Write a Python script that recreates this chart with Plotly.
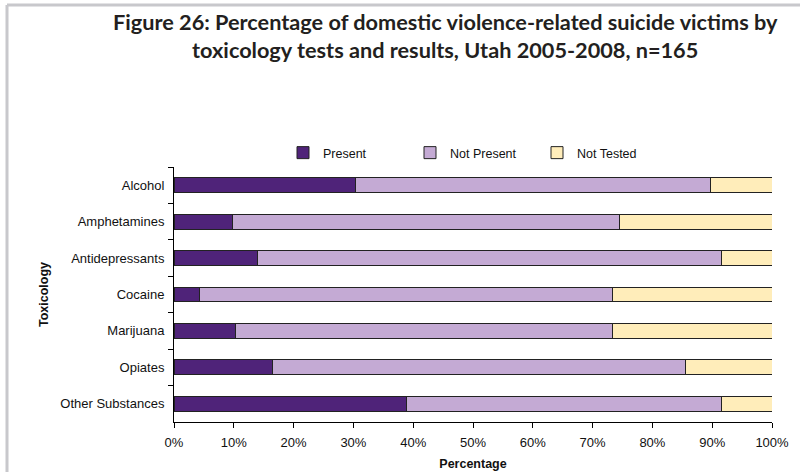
import plotly.graph_objects as go

categories = ["Alcohol", "Amphetamines", "Antidepressants", "Cocaine",
              "Marijuana", "Opiates", "Other Substances"]
present = [30.3, 9.7, 13.9, 4.2, 10.3, 16.4, 38.8]
not_present = [59.4, 64.8, 77.6, 69.1, 63.0, 69.1, 52.7]
not_tested = [10.3, 25.5, 8.5, 26.7, 26.7, 14.5, 8.5]
x_ticks = [0, 10, 20, 30, 40, 50, 60, 70, 80, 90, 100]
x_tick_labels = [f"{v}%" for v in x_ticks]

series = [("Present", present, "#4F2379"),
          ("Not Present", not_present, "#C4AAD4"),
          ("Not Tested", not_tested, "#FFEDBA")]

fig = go.Figure()
for name, vals, col in series:
    fig.add_trace(go.Bar(
        y=categories, x=vals, name=name, orientation="h",
        marker=dict(color=col, line=dict(color="#222222", width=1)),
    ))

font_axis = "Liberation Sans, Arial, sans-serif"
L, T, PW, PH = 174, 167, 598, 255

fig.update_layout(
    barmode="stack",
    bargap=0.59,
    width=800, height=472,
    margin=dict(l=L, r=800 - L - PW, t=T, b=472 - T - PH, autoexpand=False),
    paper_bgcolor="white",
    plot_bgcolor="white",
    font=dict(family=font_axis, size=13, color="#111111"),
    legend=dict(
        orientation="h",
        x=(283 - L) / PW, xanchor="left",
        y=1 + (T - 153) / PH, yanchor="middle",
        font=dict(family=font_axis, size=12.5, color="#111111"),
        entrywidth=82, entrywidthmode="pixels",
        itemwidth=30,
        traceorder="normal",
        bgcolor="rgba(0,0,0,0)",
    ),
    xaxis=dict(
        range=[0, 100],
        tickvals=x_ticks, ticktext=x_tick_labels,
        showgrid=False, zeroline=False,
        showline=True, linecolor="#000000", linewidth=1,
        ticks="outside", ticklen=5, tickcolor="#000000",
        ticklabelstandoff=3,
        automargin=False,
        title=dict(text="<b>Percentage</b>", font=dict(size=12.5), standoff=10),
    ),
    yaxis=dict(
        autorange="reversed",
        showgrid=False, zeroline=False,
        showline=True, linecolor="#000000", linewidth=1,
        ticks="outside", ticklen=5, tickcolor="#000000",
        tickson="boundaries",
        ticklabelstandoff=6,
        automargin=False,
        title=dict(text="<b>Toxicology</b>", font=dict(size=12.5), standoff=8),
    ),
    annotations=[
        dict(text="Figure 26: Percentage of domestic violence-related suicide victims by<br>toxicology tests and results, Utah 2005-2008, n=165",
             xref="paper", yref="paper",
             x=(445 - L) / PW, xanchor="center",
             y=1 + (T - 36) / PH, yanchor="middle",
             showarrow=False, align="center",
             font=dict(family="Lato, Open Sans, sans-serif", size=21.7,
                       color="#231F20", weight="bold")),
    ],
    shapes=[
        dict(type="line", xref="paper", yref="paper",
             x0=(7 - L) / PW, x1=(7 - L) / PW,
             y0=1 + (T - 5) / PH, y1=1 + (T - 480) / PH,
             line=dict(color="#C8C8CC", width=3)),
        dict(type="line", xref="paper", yref="paper",
             x0=(7 - L) / PW, x1=(810 - L) / PW,
             y0=1 + (T - 5) / PH, y1=1 + (T - 5) / PH,
             line=dict(color="#C8C8CC", width=3)),
    ],
)

fig.write_html("out.html",
               config={"displayModeBar": False},
               post_script="document.body.style.margin='0';document.body.style.overflow='hidden';")
